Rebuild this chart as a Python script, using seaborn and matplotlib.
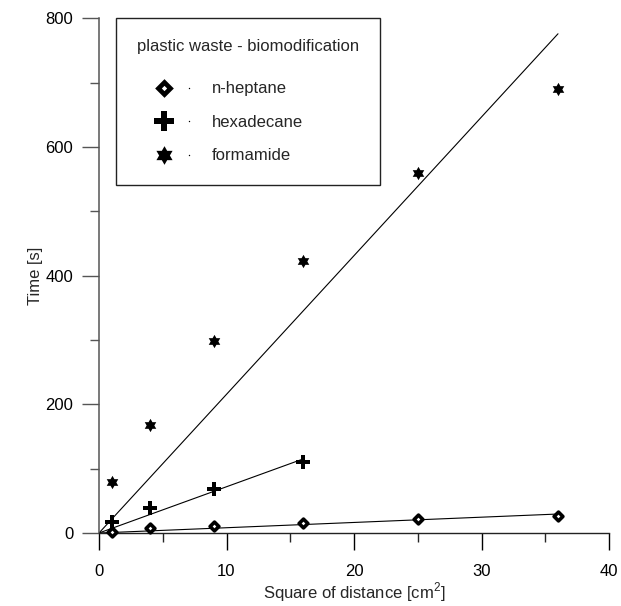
import numpy as np
import pandas as pd
import matplotlib
matplotlib.use("Agg")
import matplotlib.pyplot as plt
import seaborn as sns
from matplotlib.path import Path
from matplotlib.lines import Line2D
from matplotlib.legend_handler import HandlerBase
from matplotlib.ticker import MultipleLocator

# ---- data ----
sq_distance = [1, 4, 9, 16, 25, 36]
heptane_time = [2, 7, 11.5, 15.5, 21.3, 26.4]
hexadecane_x = [1, 4, 9, 16]
hexadecane_time = [17, 39, 68, 110]
formamide_time = [80, 168, 299, 422, 560, 690]
series_names = ["n-heptane", "hexadecane", "formamide"]
legend_title = "plastic waste - biomodification"
x_ticks = [0, 10, 20, 30, 40]
y_ticks = [0, 200, 400, 600, 800]

sns.set_style("ticks")
plt.rcParams["font.family"] = ["Liberation Sans", "DejaVu Sans"]
plt.rcParams["mathtext.fontset"] = "custom"
plt.rcParams["mathtext.rm"] = "Liberation Sans"

fig = plt.figure(figsize=(6.21, 6.06), dpi=100)
ax = fig.add_axes([99 / 621, (606 - 533) / 606, 510 / 621, (533 - 18.3) / 606])

star = Path.unit_regular_star(6, 0.577)

series = [
    (series_names[0], sq_distance, heptane_time, dict(marker="D", s=20, facecolor="white", edgecolor="black", linewidth=2.6)),
    (series_names[1], hexadecane_x, hexadecane_time, dict(marker="P", s=100, color="black", linewidth=0)),
    (series_names[2], sq_distance, formamide_time, dict(marker=star, s=92, color="black", linewidth=0)),
]

for name, xs, ys, st in series:
    df = pd.DataFrame({"x": xs, "y": ys})
    # least squares fit through the origin
    xa = np.asarray(xs, float)
    ya = np.asarray(ys, float)
    slope = (xa * ya).sum() / (xa * xa).sum()
    fit = pd.DataFrame({"x": [0.0, xa.max()], "y": [0.0, slope * xa.max()]})
    sns.lineplot(data=fit, x="x", y="y", ax=ax, color="black", linewidth=0.8, zorder=2)
    sns.scatterplot(data=df, x="x", y="y", ax=ax, zorder=3, clip_on=False, **st)

ax.set_xlim(0, 40)
ax.set_ylim(0, 800)
ax.set_xticks(x_ticks)
ax.set_yticks(y_ticks)
ax.xaxis.set_minor_locator(MultipleLocator(5))
ax.yaxis.set_minor_locator(MultipleLocator(100))
ax.tick_params(which="major", direction="out", length=12.5, width=1.0, labelsize=12, colors="black")
ax.tick_params(which="minor", direction="out", length=6.5, width=1.0)
ax.tick_params(axis="x", which="major", pad=9.5)
ax.tick_params(axis="y", which="major", pad=6)

for side in ["top", "right"]:
    ax.spines[side].set_visible(False)
ax.spines["left"].set_color("#555555")
ax.spines["bottom"].set_color("#222222")
ax.spines["left"].set_linewidth(1.1)
ax.spines["bottom"].set_linewidth(1.0)
ax.tick_params(axis="y", which="both", color="#555555")

ax.set_xlabel("Square of distance [cm$^{\\mathregular{2}}$]", fontsize=12, labelpad=1)
ax.set_ylabel("Time [s]", fontsize=12, labelpad=2)


class MarkerDot(HandlerBase):
    def create_artists(self, legend, orig_handle, xdescent, ydescent, width, height, fontsize, trans):
        y = height / 2 - ydescent
        mk = Line2D([0.45 * width - xdescent], [y], linestyle="none",
                    marker=orig_handle.get_marker(), markersize=orig_handle.get_markersize(),
                    markerfacecolor=orig_handle.get_markerfacecolor(),
                    markeredgecolor=orig_handle.get_markeredgecolor(),
                    markeredgewidth=orig_handle.get_markeredgewidth(), transform=trans)
        dot = Line2D([0.87 * width - xdescent], [y], linestyle="none", marker="o",
                     markersize=1.0, markerfacecolor="black", markeredgewidth=0, transform=trans)
        return [mk, dot]


handles = [
    Line2D([], [], linestyle="none", marker="D", markersize=1.4 * np.sqrt(20), markerfacecolor="white",
           markeredgecolor="black", markeredgewidth=3.4),
    Line2D([], [], linestyle="none", marker="P", markersize=14, markerfacecolor="black",
           markeredgecolor="black", markeredgewidth=0),
    Line2D([], [], linestyle="none", marker=star, markersize=1.4 * np.sqrt(92), markerfacecolor="black",
           markeredgecolor="black", markeredgewidth=0),
]
leg = ax.legend(handles, series_names, title=legend_title, loc="upper left",
                bbox_to_anchor=(16.7 / 510, 1.0), borderaxespad=0, fontsize=12, title_fontsize=12,
                frameon=True, fancybox=False, framealpha=1, edgecolor="#222222", borderpad=1.27,
                handlelength=3.6, handletextpad=0.9, labelspacing=0.92, handleheight=1.3,
                alignment="left", handler_map={Line2D: MarkerDot()})
leg.get_frame().set_linewidth(1.0)
leg._legend_box.sep = 17.5

fig.savefig("out.png", dpi=100)
